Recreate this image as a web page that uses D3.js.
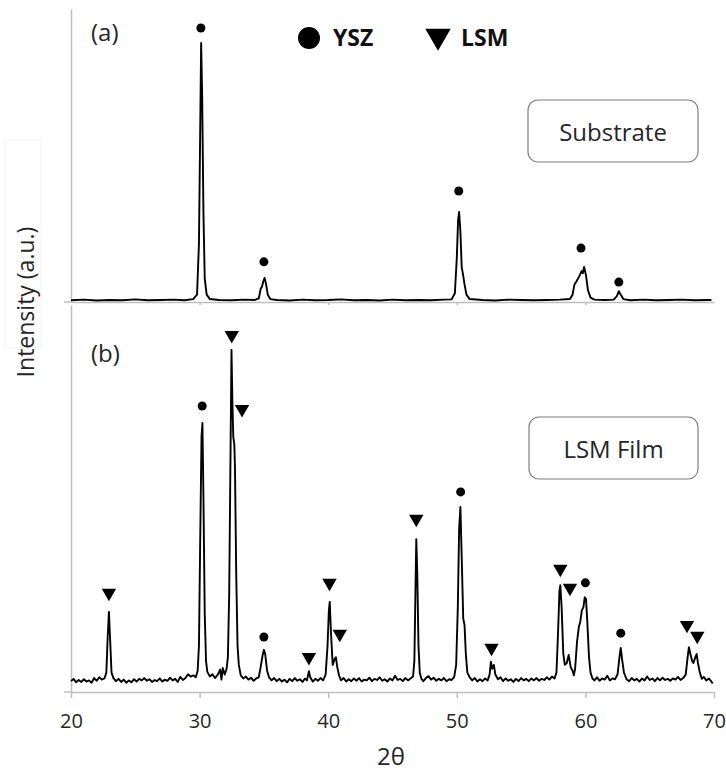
<!DOCTYPE html>
<html>
<head>
<meta charset="utf-8">
<script src="https://cdn.jsdelivr.net/npm/d3@7"></script>
<style>
  body { margin: 0; background: #fff; }
  svg { display: block; font-family: "Open Sans", sans-serif; }
</style>
</head>
<body>
<div id="chart"></div>
<script>
// ---- data ----
// x ticks (2θ)
const xTicks = [20, 30, 40, 50, 60, 70];

// (a) substrate pattern: [2θ, intensity a.u.]
const substrate = [
  [20.0, 0.6], [21, 0.8], [22, 0.5], [23, 0.7], [24, 0.6], [25, 0.9], [26, 0.6], [27, 0.7],
  [28, 0.8], [28.8, 0.6], [29.5, 1.0], [29.8, 2.5], [29.95, 20], [30.05, 60], [30.12, 88.4],
  [30.2, 70], [30.3, 30], [30.4, 8], [30.55, 2.5], [30.8, 1.0], [31.5, 0.7], [32.5, 0.6],
  [33.5, 0.8], [34.3, 0.7], [34.6, 1.2], [34.75, 4.5], [34.85, 5.2], [34.95, 7], [35.05, 8.2],
  [35.15, 6.5], [35.3, 2.5], [35.5, 1.0], [36, 0.7], [37, 0.5], [38, 0.8], [39, 0.6],
  [40, 0.7], [41, 0.9], [42, 0.6], [43, 0.7], [44, 0.5], [45, 0.8], [46, 0.6], [47, 0.7],
  [48, 0.6], [49, 0.8], [49.6, 0.9], [49.85, 3], [50.0, 15], [50.1, 28], [50.18, 30.7],
  [50.28, 24], [50.38, 12], [50.5, 9], [50.6, 6], [50.75, 2.5], [51, 1.0], [52, 0.7],
  [53, 0.5], [54, 0.8], [55, 0.7], [56, 0.6], [57, 0.7], [58, 0.8], [58.8, 1.0], [59.0, 2.5],
  [59.15, 6.0], [59.3, 7.0], [59.55, 9], [59.7, 10.5], [59.8, 9.8], [59.9, 12], [60.05, 9],
  [60.2, 4], [60.4, 1.5], [60.7, 0.8], [61.5, 0.7], [62.2, 0.8], [62.45, 2], [62.6, 3.7],
  [62.75, 2.5], [62.95, 1.0], [63.5, 0.6], [64.5, 0.8], [65.5, 0.6], [66.5, 0.7], [67.5, 0.8],
  [68.5, 0.6], [69.5, 0.7], [69.8, 0.7]
];

// (b) LSM film pattern: [2θ, intensity a.u.]
const film = [
  [20.0, 2.8], [20.2, 3.4], [20.4, 2.5], [20.6, 3.1], [20.8, 2.6], [21.0, 3.3], [21.2, 2.7],
  [21.4, 3.0], [21.6, 2.4], [21.8, 3.6], [22.0, 2.9], [22.2, 3.8], [22.4, 3.2], [22.6, 3.5],
  [22.75, 5], [22.85, 14], [22.95, 20.7], [23.05, 13], [23.15, 5], [23.3, 3.6], [23.5, 2.8],
  [23.7, 3.4], [23.9, 2.6], [24.1, 3.2], [24.3, 2.4], [24.5, 3.0], [24.7, 2.5], [24.9, 3.3],
  [25.1, 2.7], [25.3, 3.4], [25.5, 3.0], [25.7, 3.6], [25.9, 2.9], [26.1, 3.3], [26.3, 2.6],
  [26.5, 3.1], [26.7, 2.8], [26.9, 3.5], [27.1, 2.7], [27.3, 3.2], [27.5, 2.9], [27.7, 3.7],
  [27.9, 3.0], [28.1, 3.4], [28.3, 2.6], [28.5, 3.9], [28.7, 3.1], [28.9, 3.6], [29.1, 4.6],
  [29.3, 4.0], [29.5, 4.3], [29.7, 3.8], [29.85, 5.5], [29.95, 12], [30.05, 40], [30.15, 66],
  [30.22, 69.5], [30.3, 50], [30.4, 20], [30.5, 8], [30.6, 5.2], [30.8, 4.0], [31.0, 4.6],
  [31.2, 3.6], [31.4, 4.4], [31.6, 5.8], [31.7, 3.2], [31.8, 6.2], [31.95, 4.5], [32.1, 6.0],
  [32.2, 9], [32.3, 25], [32.4, 60], [32.48, 88.4], [32.55, 75], [32.62, 65.9], [32.7, 64],
  [32.75, 58], [32.85, 30], [32.95, 12], [33.05, 7], [33.2, 4.3], [33.4, 3.5], [33.6, 4.0],
  [33.8, 3.2], [34.0, 3.7], [34.2, 2.9], [34.4, 3.5], [34.6, 3.8], [34.75, 6.5], [34.9, 9.5],
  [35.0, 10.9], [35.1, 9.8], [35.25, 5.5], [35.4, 3.8], [35.6, 3.0], [35.8, 3.6], [36.0, 2.8],
  [36.2, 3.4], [36.4, 2.7], [36.6, 3.2], [36.8, 2.5], [37.0, 3.4], [37.2, 2.8], [37.4, 3.6],
  [37.6, 2.9], [37.8, 3.3], [38.0, 2.6], [38.2, 3.5], [38.35, 3.0], [38.5, 5.4], [38.6, 3.8],
  [38.8, 2.7], [39.0, 3.4], [39.2, 2.9], [39.4, 3.6], [39.6, 3.0], [39.8, 4.5], [39.95, 12],
  [40.05, 21], [40.12, 23.3], [40.22, 15], [40.35, 7], [40.5, 8.5], [40.6, 9.0], [40.7, 6.5],
  [40.85, 4.2], [41.0, 3.0], [41.2, 3.6], [41.4, 2.7], [41.6, 3.3], [41.8, 2.8], [42.0, 3.5],
  [42.2, 2.9], [42.4, 3.6], [42.6, 2.7], [42.8, 3.2], [43.0, 3.0], [43.2, 3.7], [43.4, 2.8],
  [43.6, 3.4], [43.8, 3.1], [44.0, 3.8], [44.2, 2.9], [44.4, 3.3], [44.6, 2.7], [44.8, 3.5],
  [45.0, 3.0], [45.2, 4.2], [45.4, 3.1], [45.6, 3.4], [45.8, 2.8], [46.0, 3.6], [46.2, 3.0],
  [46.4, 3.5], [46.6, 4.0], [46.7, 8], [46.78, 25], [46.85, 39.5], [46.93, 30], [47.02, 12],
  [47.12, 5], [47.25, 3.4], [47.4, 2.8], [47.6, 3.6], [47.8, 4.1], [48.0, 3.2], [48.2, 3.7],
  [48.4, 2.9], [48.6, 3.4], [48.8, 3.0], [49.0, 3.6], [49.2, 2.8], [49.4, 3.3], [49.6, 3.1],
  [49.8, 3.9], [49.95, 7], [50.08, 22], [50.18, 42], [50.28, 47.8], [50.38, 35], [50.5, 19],
  [50.6, 17.3], [50.7, 10], [50.82, 5], [51.0, 3.8], [51.2, 3.0], [51.4, 3.6], [51.6, 2.7],
  [51.8, 3.3], [52.0, 2.8], [52.2, 3.5], [52.4, 3.0], [52.55, 4.5], [52.65, 7.8], [52.75, 6],
  [52.88, 7.0], [53.0, 4.5], [53.2, 3.3], [53.4, 3.8], [53.6, 2.8], [53.8, 3.5], [54.0, 2.9],
  [54.2, 3.3], [54.4, 2.6], [54.6, 3.4], [54.8, 2.8], [55.0, 3.6], [55.2, 3.0], [55.4, 3.4],
  [55.6, 2.8], [55.8, 3.5], [56.0, 3.0], [56.2, 3.6], [56.4, 2.9], [56.6, 3.4], [56.8, 3.1],
  [57.0, 3.8], [57.2, 3.2], [57.4, 4.0], [57.6, 3.5], [57.75, 5], [57.88, 16], [57.98, 26],
  [58.05, 27.6], [58.15, 22], [58.28, 10], [58.4, 7], [58.55, 7.5], [58.7, 9.6], [58.85, 6.5],
  [59.0, 5.5], [59.1, 4.3], [59.2, 6], [59.35, 13], [59.5, 17], [59.6, 18.1], [59.72, 21],
  [59.85, 22], [59.95, 24.5], [60.05, 24], [60.15, 18], [60.28, 9], [60.4, 5], [60.55, 3.5],
  [60.7, 3.0], [60.9, 3.8], [61.1, 2.9], [61.3, 3.5], [61.5, 3.2], [61.7, 4.2], [61.9, 3.0],
  [62.1, 3.5], [62.3, 3.3], [62.5, 4.5], [62.65, 9], [62.75, 11.4], [62.85, 8.5], [63.0, 5],
  [63.2, 3.3], [63.4, 2.8], [63.6, 3.6], [63.8, 3.0], [64.0, 3.4], [64.2, 2.7], [64.4, 3.5],
  [64.6, 3.0], [64.8, 4.0], [65.0, 3.1], [65.2, 3.5], [65.4, 2.8], [65.6, 3.6], [65.8, 3.0],
  [66.0, 3.7], [66.2, 3.1], [66.4, 3.4], [66.6, 2.9], [66.8, 3.5], [67.0, 3.2], [67.2, 3.9],
  [67.4, 3.1], [67.6, 3.6], [67.8, 4.5], [67.95, 9], [68.05, 11.6], [68.15, 10], [68.3, 8],
  [68.4, 7.5], [68.55, 9], [68.65, 9.8], [68.75, 7.5], [68.9, 5], [69.05, 3.4], [69.2, 3.9],
  [69.4, 3.0], [69.6, 3.5], [69.75, 2.9], [69.9, 2.2]
];

// phase markers: [2θ, height where marker sits]
const substrateYSZ = [[30.1, 93.5], [35.0, 13.7], [50.15, 37.9], [59.66, 18.4], [62.6, 6.8]];
const filmYSZ = [[30.2, 73.9], [35.0, 14.2], [50.3, 51.7], [60.0, 28.2], [62.75, 15.2]];
const filmLSM = [[22.95, 25.6], [32.5, 92.2], [33.3, 73.1], [38.5, 9.0], [40.1, 28.2],
  [40.9, 15.0], [46.85, 44.7], [52.7, 11.4], [58.05, 31.8], [58.8, 26.9], [67.9, 17.3], [68.7, 14.5]];

// ---- layout ----
const W = 726, H = 770;
const axisGray = '#bfbfbf';
const textColor = '#262626';

const svg = d3.select('#chart').append('svg')
  .attr('width', W).attr('height', H);

const x = d3.scaleLinear().domain([20, 70]).range([71, 714]);
const yTop = d3.scaleLinear().domain([0, 100]).range([302, 9]);
const yBot = d3.scaleLinear().domain([0, 100]).range([692, 305]);

// faint frame behind the y title
svg.append('rect')
  .attr('x', 5).attr('y', 140).attr('width', 36).attr('height', 208)
  .attr('fill', 'none').attr('stroke', '#f3f3f3').attr('stroke-width', 1);

// top panel axes
const gTopX = svg.append('g')
  .attr('transform', `translate(0,${yTop(0)})`)
  .call(d3.axisBottom(x).tickValues([30, 40, 50, 60]).tickSize(3).tickSizeOuter(0).tickFormat(''));
const gTopY = svg.append('g')
  .attr('transform', `translate(${x(20)},0)`)
  .call(d3.axisLeft(yTop).tickValues([]).tickSizeOuter(0));

// bottom panel axes
const gBotX = svg.append('g')
  .attr('transform', `translate(0,${yBot(0)})`)
  .call(d3.axisBottom(x).tickValues(xTicks).tickSize(6).tickSizeOuter(0).tickPadding(16));
const gBotY = svg.append('g')
  .attr('transform', `translate(${x(20)},0)`)
  .call(d3.axisLeft(yBot).tickValues([]).tickSizeOuter(0));

[gTopX, gTopY, gBotX, gBotY].forEach(g => {
  g.selectAll('path, line').attr('stroke', axisGray).attr('stroke-width', 1.5);
});
gBotX.selectAll('text')
  .attr('fill', textColor)
  .style('font-size', '20px')
  .style('font-family', '"Open Sans", sans-serif');

// x-axis lines run a little past the y axis
[yTop(0), yBot(0)].forEach(yy => {
  svg.append('line')
    .attr('x1', 64).attr('x2', x(20))
    .attr('y1', yy).attr('y2', yy)
    .attr('stroke', axisGray).attr('stroke-width', 1.5);
});

// spectra
const lineTop = d3.line().x(d => x(d[0])).y(d => yTop(d[1]));
const lineBot = d3.line().x(d => x(d[0])).y(d => yBot(d[1]));

svg.append('path').datum(substrate)
  .attr('d', lineTop)
  .attr('fill', 'none').attr('stroke', '#000').attr('stroke-width', 1.9)
  .attr('stroke-linejoin', 'round');

svg.append('path').datum(film)
  .attr('d', lineBot)
  .attr('fill', 'none').attr('stroke', '#000').attr('stroke-width', 1.9)
  .attr('stroke-linejoin', 'round');

// markers
const tri = d3.symbol().type(d3.symbolTriangle).size(90);

function dots(data, y) {
  svg.append('g').selectAll('circle')
    .data(data).enter().append('circle')
    .attr('cx', d => x(d[0])).attr('cy', d => y(d[1]))
    .attr('r', 4.5).attr('fill', '#000');
}
function tris(data, y) {
  svg.append('g').selectAll('path')
    .data(data).enter().append('path')
    .attr('d', tri)
    .attr('transform', d => `translate(${x(d[0])},${y(d[1])}) rotate(180)`)
    .attr('fill', '#000');
}
dots(substrateYSZ, yTop);
dots(filmYSZ, yBot);
tris(filmLSM, yBot);

// panel labels
svg.append('text').attr('x', 91).attr('y', 41)
  .style('font-size', '24px').attr('fill', textColor).text('(a)');
svg.append('text').attr('x', 91).attr('y', 362)
  .style('font-size', '24px').attr('fill', textColor).text('(b)');

// legend
svg.append('circle').attr('cx', 309).attr('cy', 38).attr('r', 11).attr('fill', '#000');
svg.append('text').attr('x', 333).attr('y', 46)
  .style('font-size', '23px').style('font-weight', 'bold').attr('fill', '#111').text('YSZ');
svg.append('path')
  .attr('d', d3.symbol().type(d3.symbolTriangle).size(280))
  .attr('transform', 'translate(438,36) rotate(180)')
  .attr('fill', '#000');
svg.append('text').attr('x', 461).attr('y', 46)
  .style('font-size', '23px').style('font-weight', 'bold').attr('fill', '#111').text('LSM');

// sample boxes
const boxes = [
  { label: 'Substrate', x: 528, y: 100, w: 170, h: 62 },
  { label: 'LSM Film', x: 529, y: 417, w: 169, h: 62 }
];
boxes.forEach(b => {
  svg.append('rect')
    .attr('x', b.x).attr('y', b.y).attr('width', b.w).attr('height', b.h)
    .attr('rx', 10).attr('ry', 10)
    .attr('fill', '#fff').attr('stroke', '#7f7f7f').attr('stroke-width', 1.2);
  svg.append('text')
    .attr('x', b.x + b.w / 2).attr('y', b.y + b.h / 2)
    .attr('text-anchor', 'middle').attr('dominant-baseline', 'central')
    .style('font-size', '24px').attr('fill', textColor).text(b.label);
});

// axis titles
svg.append('text')
  .attr('transform', 'translate(25,302) rotate(-90)')
  .attr('text-anchor', 'middle').attr('dominant-baseline', 'central')
  .style('font-size', '23px').attr('fill', textColor).text('Intensity (a.u.)');

svg.append('text')
  .attr('x', 391).attr('y', 755)
  .attr('text-anchor', 'middle').attr('dominant-baseline', 'central')
  .style('font-size', '24px').attr('fill', textColor).text('2θ');
</script>
</body>
</html>
